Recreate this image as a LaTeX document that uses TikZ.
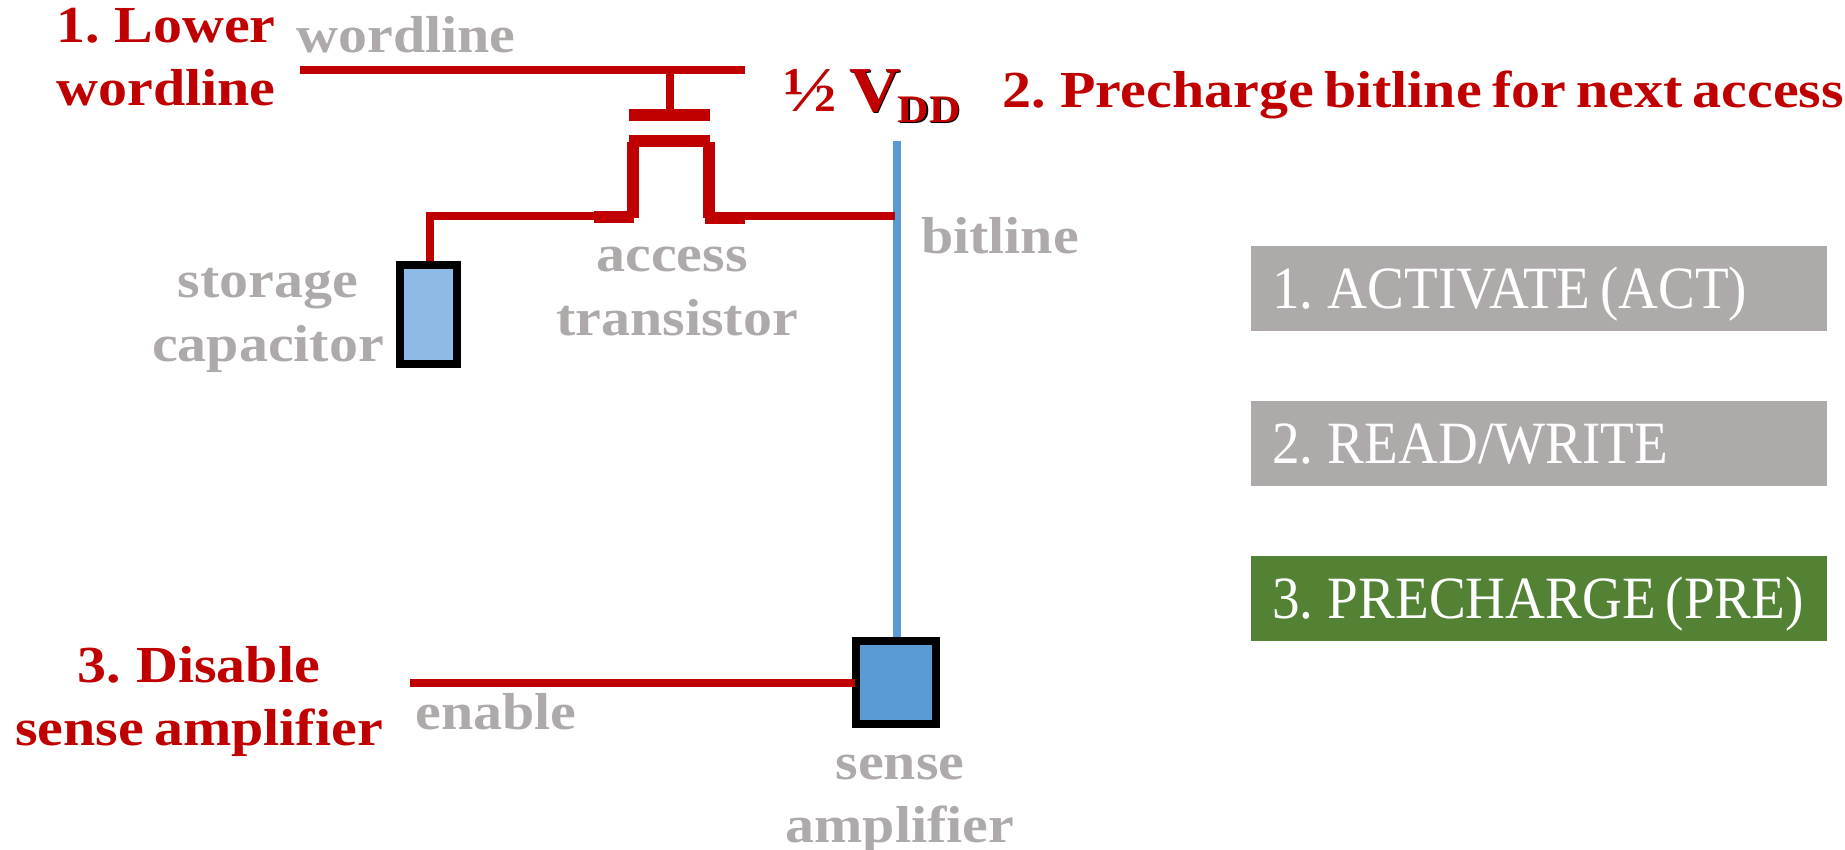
\documentclass[tikz,border=0pt]{standalone}
\usepackage{fontspec}
\setmainfont[FakeStretch=1.115, WordSpace=0.7]{Liberation Serif}
\newfontfamily\cmdfont[FakeStretch=0.92, WordSpace=0.7]{Liberation Serif}
\usepackage{tikz}
\usetikzlibrary{positioning, calc}

\definecolor{wirered}{HTML}{C00000}
\definecolor{labelgray}{HTML}{AEAAAA}
\definecolor{bitblue}{HTML}{5B9BD5}
\definecolor{capblue}{HTML}{8FBAE6}
\definecolor{cmdgreen}{HTML}{548235}

\newcommand{\supplytext}{V\hspace{-3pt}\raisebox{-11pt}{\fontsize{39}{39}\selectfont\bfseries DD}}

\begin{document}
\begin{tikzpicture}[
    x = 1pt,
    y = -1pt,
    wire/.style = {draw=wirered, line width=8pt},
    thickwire/.style = {draw=wirered, line width=12pt},
    bitwire/.style = {draw=bitblue, line width=8pt},
    cell/.style = {draw=black, line width=8pt, inner sep=0pt, minimum width=#1},
    graylabel/.style = {text=labelgray, font=\fontsize{52}{63}\selectfont\bfseries, anchor=base, align=center, inner sep=0pt},
    redlabel/.style = {text=wirered, font=\fontsize{52}{63}\selectfont\bfseries, anchor=base, align=center, inner sep=0pt},
    supply/.style = {anchor=base west, inner sep=0pt, font=\fontsize{64}{63}\selectfont\bfseries},
    cmdbox/.style = {fill=#1, minimum width=576pt, minimum height=85pt, inner sep=0pt},
    cmdtext/.style = {text=white, font=\cmdfont\fontsize{60}{60}\selectfont, anchor=base west, inner sep=0pt}
]
\useasboundingbox (0,0) rectangle (1845,850);

% 1. Command boxes on the right
\foreach \num/\ypos/\fillcol/\txt in {act/288.5/labelgray/{1. ACTIVATE (ACT)}, rdwr/443.5/labelgray/{2. READ/WRITE}, pre/598.5/cmdgreen/{3. PRECHARGE (PRE)}} {
    \node[cmdbox=\fillcol] (\num) at (1539, \ypos) {};
    \node[cmdtext] (\num-text) at (1272, \ypos+20) {\txt};
}

% 2. Capacitor, sense amplifier and the corners of the wires
\node[cell=57pt, fill=capblue, minimum height=99pt] (cap) at (428.5, 314.5) {};
\node[cell=80pt, fill=bitblue, minimum height=83pt] (amp) at (896, 682.5) {};

\coordinate (wl-l) at (300, 70);
\coordinate (wl-r) at (745, 70);
\coordinate (wl-t) at (670, 70);
\coordinate (gate) at (670, 115.5);
\coordinate (gate-l) at (629, 115.5);
\coordinate (gate-r) at (710, 115.5);
\coordinate (chan-l) at (629, 141.5);
\coordinate (chan-r) at (710, 141.5);
\coordinate (src-t) at (633, 142);
\coordinate (src-b) at (633, 218);
\coordinate (drn-t) at (709, 142);
\coordinate (drn-b) at (709, 218);
\coordinate (foot-l1) at (594, 217);
\coordinate (foot-l2) at (634, 217);
\coordinate (foot-r1) at (705, 218);
\coordinate (foot-r2) at (745, 218);
\coordinate (cell-c) at (430, 216);
\coordinate (bl-t) at (897, 141);
\coordinate (bl-m) at (895, 216);
\coordinate (en-l) at (410, 683);
\coordinate (en-r) at (855, 683);

% 3. Wordline and access transistor
\draw[wire] (wl-l) -- (wl-r);
\draw[wire] (wl-t) -- (gate);
\draw[thickwire] (gate-l) -- (gate-r);
\draw[thickwire] (chan-l) -- (chan-r);
\draw[thickwire] (src-t) -- (src-b);
\draw[thickwire] (drn-t) -- (drn-b);
\draw[thickwire] (foot-l1) -- (foot-l2);
\draw[thickwire] (foot-r1) -- (foot-r2);

% 4. Bitline and the remaining wires
\draw[bitwire] (bl-t) -- (amp.north -| bl-t);
\draw[wire] (cap.north -| cell-c) -- (cell-c) -- (foot-l1 |- cell-c);
\draw[wire] (foot-r2 |- bl-m) -- (bl-m);
\draw[wire] (en-l) -- (en-r);

% 5. Gray labels
\node[graylabel] (wl-label) at (406, 53) {wordline};
\node[graylabel] (bl-label) at (1000, 254) {bitline};
\node[graylabel] (tr-label) at (677, 335) {access\rule{10pt}{0pt}\\transistor};
\node[graylabel] (cap-label) at (268, 361) {storage\\capacitor};
\node[graylabel] (en-label) at (496, 729) {enable};
\node[graylabel] (amp-label) at (900, 842) {sense\\amplifier};

% 6. Red labels
\node[redlabel] (step-wl) at (166, 106) {1. Lower\\wordline};
\node[redlabel] (step-pre) at (1423, 108) {2. Precharge bitline for next access};
\node[redlabel] (step-en) at (199, 745) {3. Disable\\sense amplifier};
\node[supply, text=black] (half-shadow) at (784.5, 112.5) {\phantom{½ }\supplytext};
\node[supply, text=wirered] (half) at (783, 112) {½ \supplytext};

\end{tikzpicture}
\end{document}
